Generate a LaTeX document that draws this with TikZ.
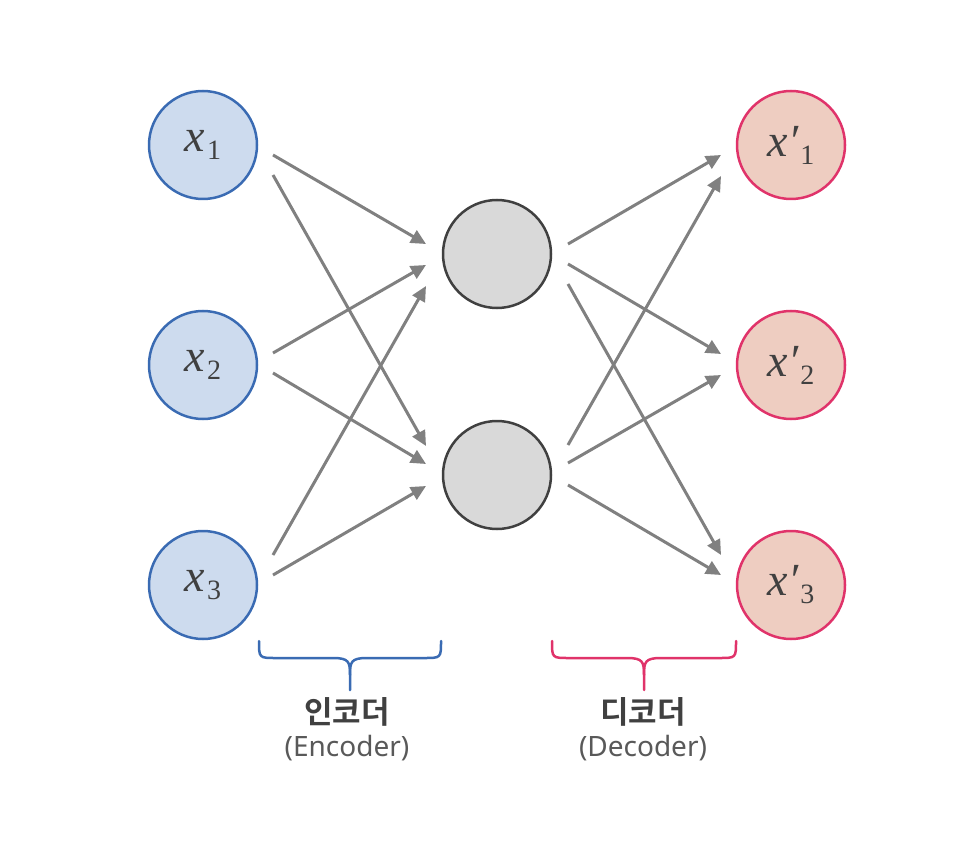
\documentclass[tikz,border=0pt]{standalone}
\usepackage{fontspec}
\setmainfont{Noto Sans}
\newfontfamily\kr{Noto Sans CJK KR}[BoldFont={Noto Sans CJK KR Bold}]
\newfontfamily\lsf{Liberation Serif}
\usetikzlibrary{arrows.meta,calc}
\definecolor{inb}{HTML}{3A6BB3}
\definecolor{inf}{HTML}{CDDBEE}
\definecolor{outr}{HTML}{E0336A}
\definecolor{outf}{HTML}{EECDC1}
\definecolor{hidf}{HTML}{D9D9D9}
\definecolor{hidb}{HTML}{404040}
\definecolor{arr}{HTML}{808080}
\definecolor{txt}{HTML}{404040}
\definecolor{txt2}{HTML}{595959}
\newcommand\varlab[2]{{\lsf\fontsize{46}{46}\selectfont\itshape x#1}\kern2pt\raisebox{-8pt}{\lsf\fontsize{28}{28}\selectfont #2}}
\tikzset{
  neuron/.style={circle, minimum size=108pt, inner sep=0pt, line width=2.5pt, text=txt},
  innode/.style={neuron, draw=inb, fill=inf},
  outnode/.style={neuron, draw=outr, fill=outf},
  hidnode/.style={neuron, draw=hidb, fill=hidf},
  conn/.style={draw=arr, line width=3pt, -{Triangle[length=15pt,width=14pt]}},
  brace/.style={line width=2.5pt, line join=round, line cap=round},
  krlab/.style={text=txt, font=\kr\bfseries\fontsize{31}{31}\selectfont},
  enlab/.style={text=txt2, font=\fontsize{28}{28}\selectfont}
}
\begin{document}
\begin{tikzpicture}[x=1pt,y=-1pt]
\useasboundingbox (0,0) rectangle (976,858);
\node[innode] (x1) at (203,145) {\varlab{}{1}};
\node[innode] (x2) at (203,365) {\varlab{}{2}};
\node[innode] (x3) at (203,585) {\varlab{}{3}};
\node[hidnode] (h1) at (497,254) {};
\node[hidnode] (h2) at (497,475) {};
\node[outnode] (o1) at (791,145) {\varlab{′}{1}};
\node[outnode] (o2) at (791,365) {\varlab{′}{2}};
\node[outnode] (o3) at (791,585) {\varlab{′}{3}};
% encoder connector ends
\coordinate (x1a) at (273,155); \coordinate (x1b) at (273,175);
\coordinate (x2a) at (273,353); \coordinate (x2b) at (273,373);
\coordinate (x3a) at (273,555); \coordinate (x3b) at (273,575);
\coordinate (h1i1) at (426,244); \coordinate (h1i2) at (426,265); \coordinate (h1i3) at (426,286);
\coordinate (h2i1) at (426,446); \coordinate (h2i2) at (426,464); \coordinate (h2i3) at (426,486);
% decoder connector ends
\coordinate (h1o1) at (568,244); \coordinate (h1o2) at (568,264); \coordinate (h1o3) at (568,284);
\coordinate (h2o1) at (568,445); \coordinate (h2o2) at (568,463); \coordinate (h2o3) at (568,485);
\coordinate (o1a) at (721,155); \coordinate (o1b) at (721,176);
\coordinate (o2a) at (721,354); \coordinate (o2b) at (721,375);
\coordinate (o3a) at (721,555); \coordinate (o3b) at (721,575);
\draw[conn] (x1a) -- (h1i1);
\draw[conn] (x1b) -- (h2i1);
\draw[conn] (x2a) -- (h1i2);
\draw[conn] (x2b) -- (h2i2);
\draw[conn] (x3a) -- (h1i3);
\draw[conn] (x3b) -- (h2i3);
\draw[conn] (h1o1) -- (o1a);
\draw[conn] (h1o2) -- (o2a);
\draw[conn] (h1o3) -- (o3a);
\draw[conn] (h2o1) -- (o1b);
\draw[conn] (h2o2) -- (o2b);
\draw[conn] (h2o3) -- (o3b);
% braces
\draw[brace, draw=inb] (259,641) .. controls (259,658) .. (276,658) -- (333,658)
  .. controls (349,658) and (350,662) .. (350,675) -- (350,690);
\draw[brace, draw=inb] (350,675) .. controls (350,662) and (351,658) .. (367,658) -- (424,658)
  .. controls (441,658) .. (441,641);
\draw[brace, draw=outr] (552,641) .. controls (552,658) .. (569,658) -- (627,658)
  .. controls (643,658) and (644,662) .. (644,675) -- (644,690);
\draw[brace, draw=outr] (644,675) .. controls (644,662) and (645,658) .. (661,658) -- (719,658)
  .. controls (736,658) .. (736,641);
\node[krlab] (enc) at (347,712) {인코더};
\node[enlab] (encen) at (347,748) {(Encoder)};
\node[krlab] (dec) at (643,712) {디코더};
\node[enlab] (decen) at (643,748) {(Decoder)};
\end{tikzpicture}
\end{document}
